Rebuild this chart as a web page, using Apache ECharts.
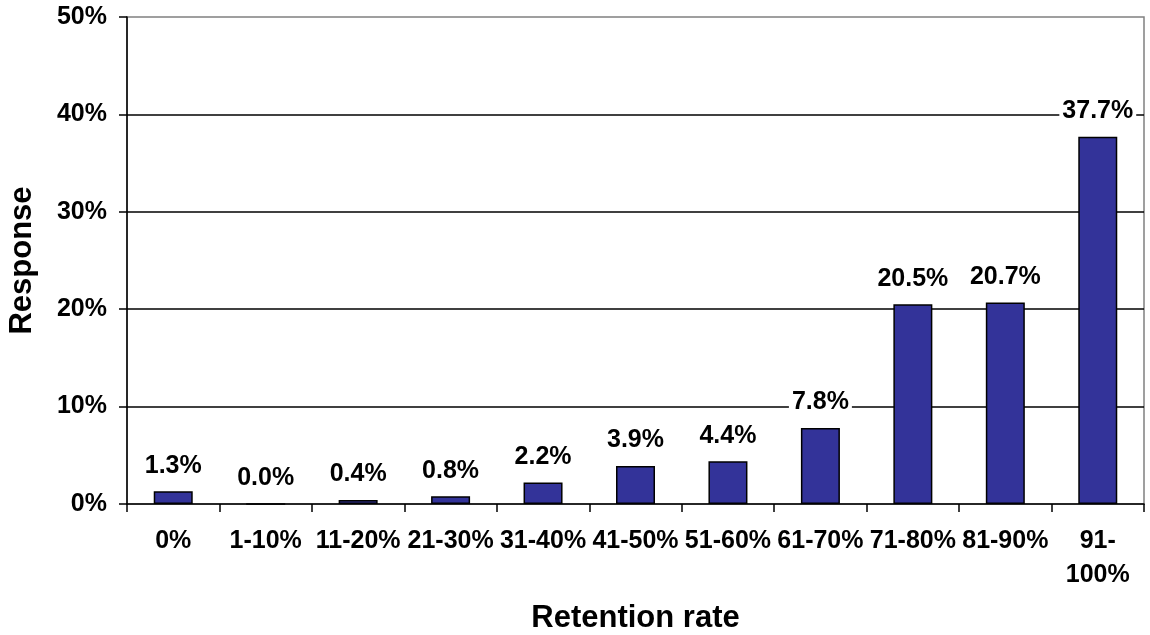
<!DOCTYPE html>
<html>
<head>
<meta charset="utf-8">
<script src="https://cdn.jsdelivr.net/npm/echarts@6/dist/echarts.min.js"></script>
<style>
  html, body { margin: 0; padding: 0; background: #ffffff; }
  #chart { width: 1150px; height: 635px; }
</style>
</head>
<body>
<div id="chart"></div>
<script>
// Retention-rate buckets and share of responses (%)
const categories = ['0%', '1-10%', '11-20%', '21-30%', '31-40%', '41-50%', '51-60%', '61-70%', '71-80%', '81-90%', '91-\n100%'];
const responses = [1.3, 0.0, 0.4, 0.8, 2.2, 3.9, 4.4, 7.8, 20.5, 20.7, 37.7];

const FONT = '"Liberation Sans", Arial, sans-serif';

const chart = echarts.init(document.getElementById('chart'), null, { renderer: 'canvas' });

chart.setOption({
  backgroundColor: '#ffffff',
  animation: false,
  grid: {
    left: 127, right: 6, top: 17, bottom: 131,
    outerBoundsMode: 'none',
    containLabel: false,
    show: true, borderColor: '#808080', borderWidth: 1.5, backgroundColor: 'transparent'
  },
  xAxis: {
    type: 'category',
    data: categories,
    name: 'Retention rate',
    nameLocation: 'middle',
    nameGap: 99,
    nameTextStyle: { fontFamily: FONT, fontWeight: 'bold', fontSize: 31, color: '#000' },
    axisLine: { show: true, lineStyle: { color: '#000', width: 1.5 } },
    axisTick: { show: true, alignWithLabel: false, length: 8, lineStyle: { color: '#000', width: 1.5 } },
    axisLabel: {
      interval: 0, margin: 20, color: '#000',
      fontFamily: FONT, fontWeight: 'bold', fontSize: 25, lineHeight: 34
    },
    splitLine: { show: false }
  },
  yAxis: {
    type: 'value',
    min: 0, max: 50, interval: 10,
    name: 'Response',
    nameLocation: 'middle',
    nameGap: 89,
    nameTextStyle: { fontFamily: FONT, fontWeight: 'bold', fontSize: 31, color: '#000' },
    axisLine: { show: true, lineStyle: { color: '#000', width: 1.5 } },
    axisTick: { show: true, inside: false, length: 8, lineStyle: { color: '#000', width: 1.5 } },
    axisLabel: {
      margin: 20, color: '#000',
      fontFamily: FONT, fontWeight: 'bold', fontSize: 25,
      formatter: v => v + '%'
    },
    splitLine: { show: true, showMinLine: false, showMaxLine: false, lineStyle: { color: '#000', width: 1.5 } }
  },
  series: [{
    type: 'bar',
    data: responses,
    barWidth: 39,
    itemStyle: { color: '#333399', borderColor: '#000', borderWidth: 1.5 },
    label: {
      show: true,
      position: 'top',
      distance: 12,
      color: '#000',
      fontFamily: FONT, fontWeight: 'bold', fontSize: 25,
      backgroundColor: '#ffffff',
      padding: [1, 3],
      formatter: p => p.value.toFixed(1) + '%'
    }
  }]
});
</script>
</body>
</html>
